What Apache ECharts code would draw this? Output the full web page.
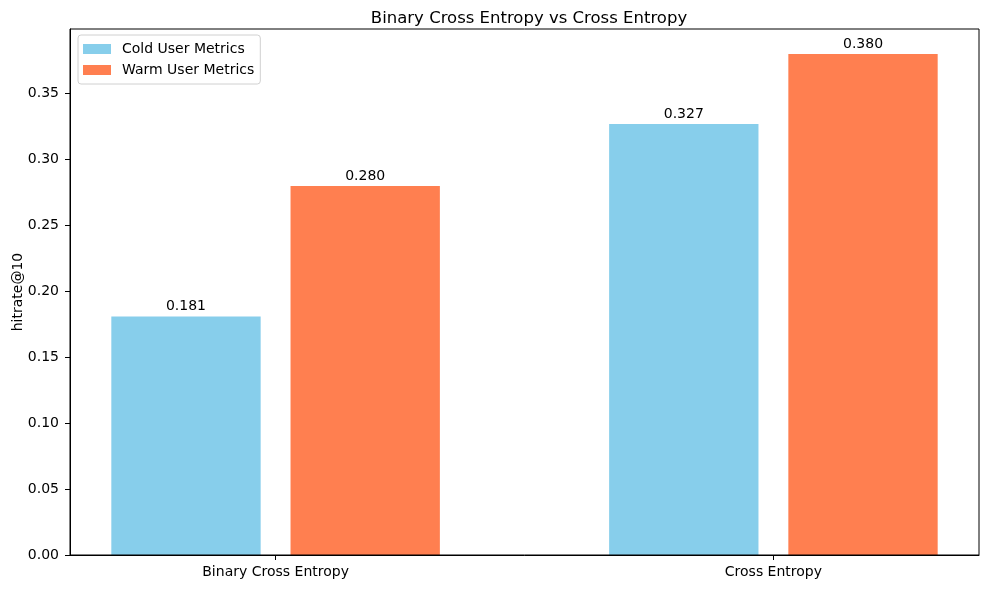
<!DOCTYPE html>
<html>
<head>
<meta charset="utf-8">
<script src="https://cdn.jsdelivr.net/npm/echarts@6/dist/echarts.min.js"></script>
<style>html,body{margin:0;padding:0;background:#fff}#c{width:989px;height:589px}</style>
</head>
<body>
<div id="c"></div>
<script>
var categories = ['Binary Cross Entropy', 'Cross Entropy'];
var coldValues = [0.181, 0.327];
var warmValues = [0.280, 0.380];
var seriesNames = ['Cold User Metrics', 'Warm User Metrics'];
var yTicks = [0, 0.05, 0.10, 0.15, 0.20, 0.25, 0.30, 0.35];

var FONT = 'DejaVu Sans';
var barW = 0.3, offset = 0.18;

function makeRender(off) {
  return function (params, api) {
    var c = api.value(0), v = api.value(1);
    var p1 = api.coord([c + off - barW / 2, v]);
    var p2 = api.coord([c + off + barW / 2, 0]);
    return {
      type: 'group',
      children: [
        {type: 'rect', shape: {x: p1[0], y: p1[1], width: p2[0] - p1[0], height: p2[1] - p1[1]}, style: {fill: api.visual('color')}},
        {type: 'text', style: {text: v.toFixed(3), x: (p1[0] + p2[0]) / 2, y: p1[1] - 3, align: 'center', verticalAlign: 'bottom', fill: '#000', font: '14px "DejaVu Sans"'}}
      ]
    };
  };
}

var chart = echarts.init(document.getElementById('c'));
chart.setOption({
  animation: false,
  textStyle: {fontFamily: FONT},
  title: {text: 'Binary Cross Entropy vs Cross Entropy', left: 524, textAlign: 'center', top: 5,
    textStyle: {fontFamily: FONT, fontSize: 16.5, fontWeight: 'normal', color: '#000'}},
  legend: {
    data: seriesNames, orient: 'vertical', left: 78, top: 35, icon: 'rect',
    itemWidth: 28, itemHeight: 10, itemGap: 5, padding: [6, 6, 6, 5],
    borderColor: '#d0d0d0', borderWidth: 1, borderRadius: 3, backgroundColor: 'rgba(255,255,255,0.8)',
    textStyle: {fontFamily: FONT, fontSize: 14, color: '#000', padding: [0, 0, 0, 6], lineHeight: 16}
  },
  grid: {left: 70, right: 10, top: 29, bottom: 34, outerBoundsMode: 'none', containLabel: false,
    show: true, borderColor: '#000', borderWidth: 1, backgroundColor: 'transparent', z: 10},
  xAxis: {
    type: 'value', min: -0.413, max: 1.413, z: 10,
    axisLine: {show: true, onZero: false, lineStyle: {color: '#000'}},
    splitLine: {show: false},
    axisTick: {show: true, length: 5, customValues: categories.map(function (d, i) { return i; }), lineStyle: {color: '#000'}},
    axisLabel: {customValues: categories.map(function (d, i) { return i; }), margin: 10,
      formatter: function (v) { return categories[Math.round(v)]; },
      fontFamily: FONT, fontSize: 14, color: '#000'}
  },
  yAxis: {
    type: 'value', min: 0, max: 0.399, z: 10,
    name: 'hitrate@10', nameLocation: 'middle', nameGap: 45, nameMoveOverlap: false,
    nameTextStyle: {fontFamily: FONT, fontSize: 14, color: '#000'},
    axisLine: {show: true, onZero: false, lineStyle: {color: '#000'}},
    splitLine: {show: false},
    axisTick: {show: true, length: 5, customValues: yTicks, lineStyle: {color: '#000'}},
    axisLabel: {customValues: yTicks, margin: 11, formatter: function (v) { return v.toFixed(2); },
      fontFamily: FONT, fontSize: 14, color: '#000'}
  },
  series: [
    {name: seriesNames[0], type: 'custom', z: 1, itemStyle: {color: '#87CEEB'},
      renderItem: makeRender(-offset), encode: {x: 0, y: 1},
      data: coldValues.map(function (v, i) { return [i, v]; })},
    {name: seriesNames[1], type: 'custom', z: 1, itemStyle: {color: '#FF7F50'},
      renderItem: makeRender(offset), encode: {x: 0, y: 1},
      data: warmValues.map(function (v, i) { return [i, v]; })}
  ]
});
</script>
</body>
</html>
